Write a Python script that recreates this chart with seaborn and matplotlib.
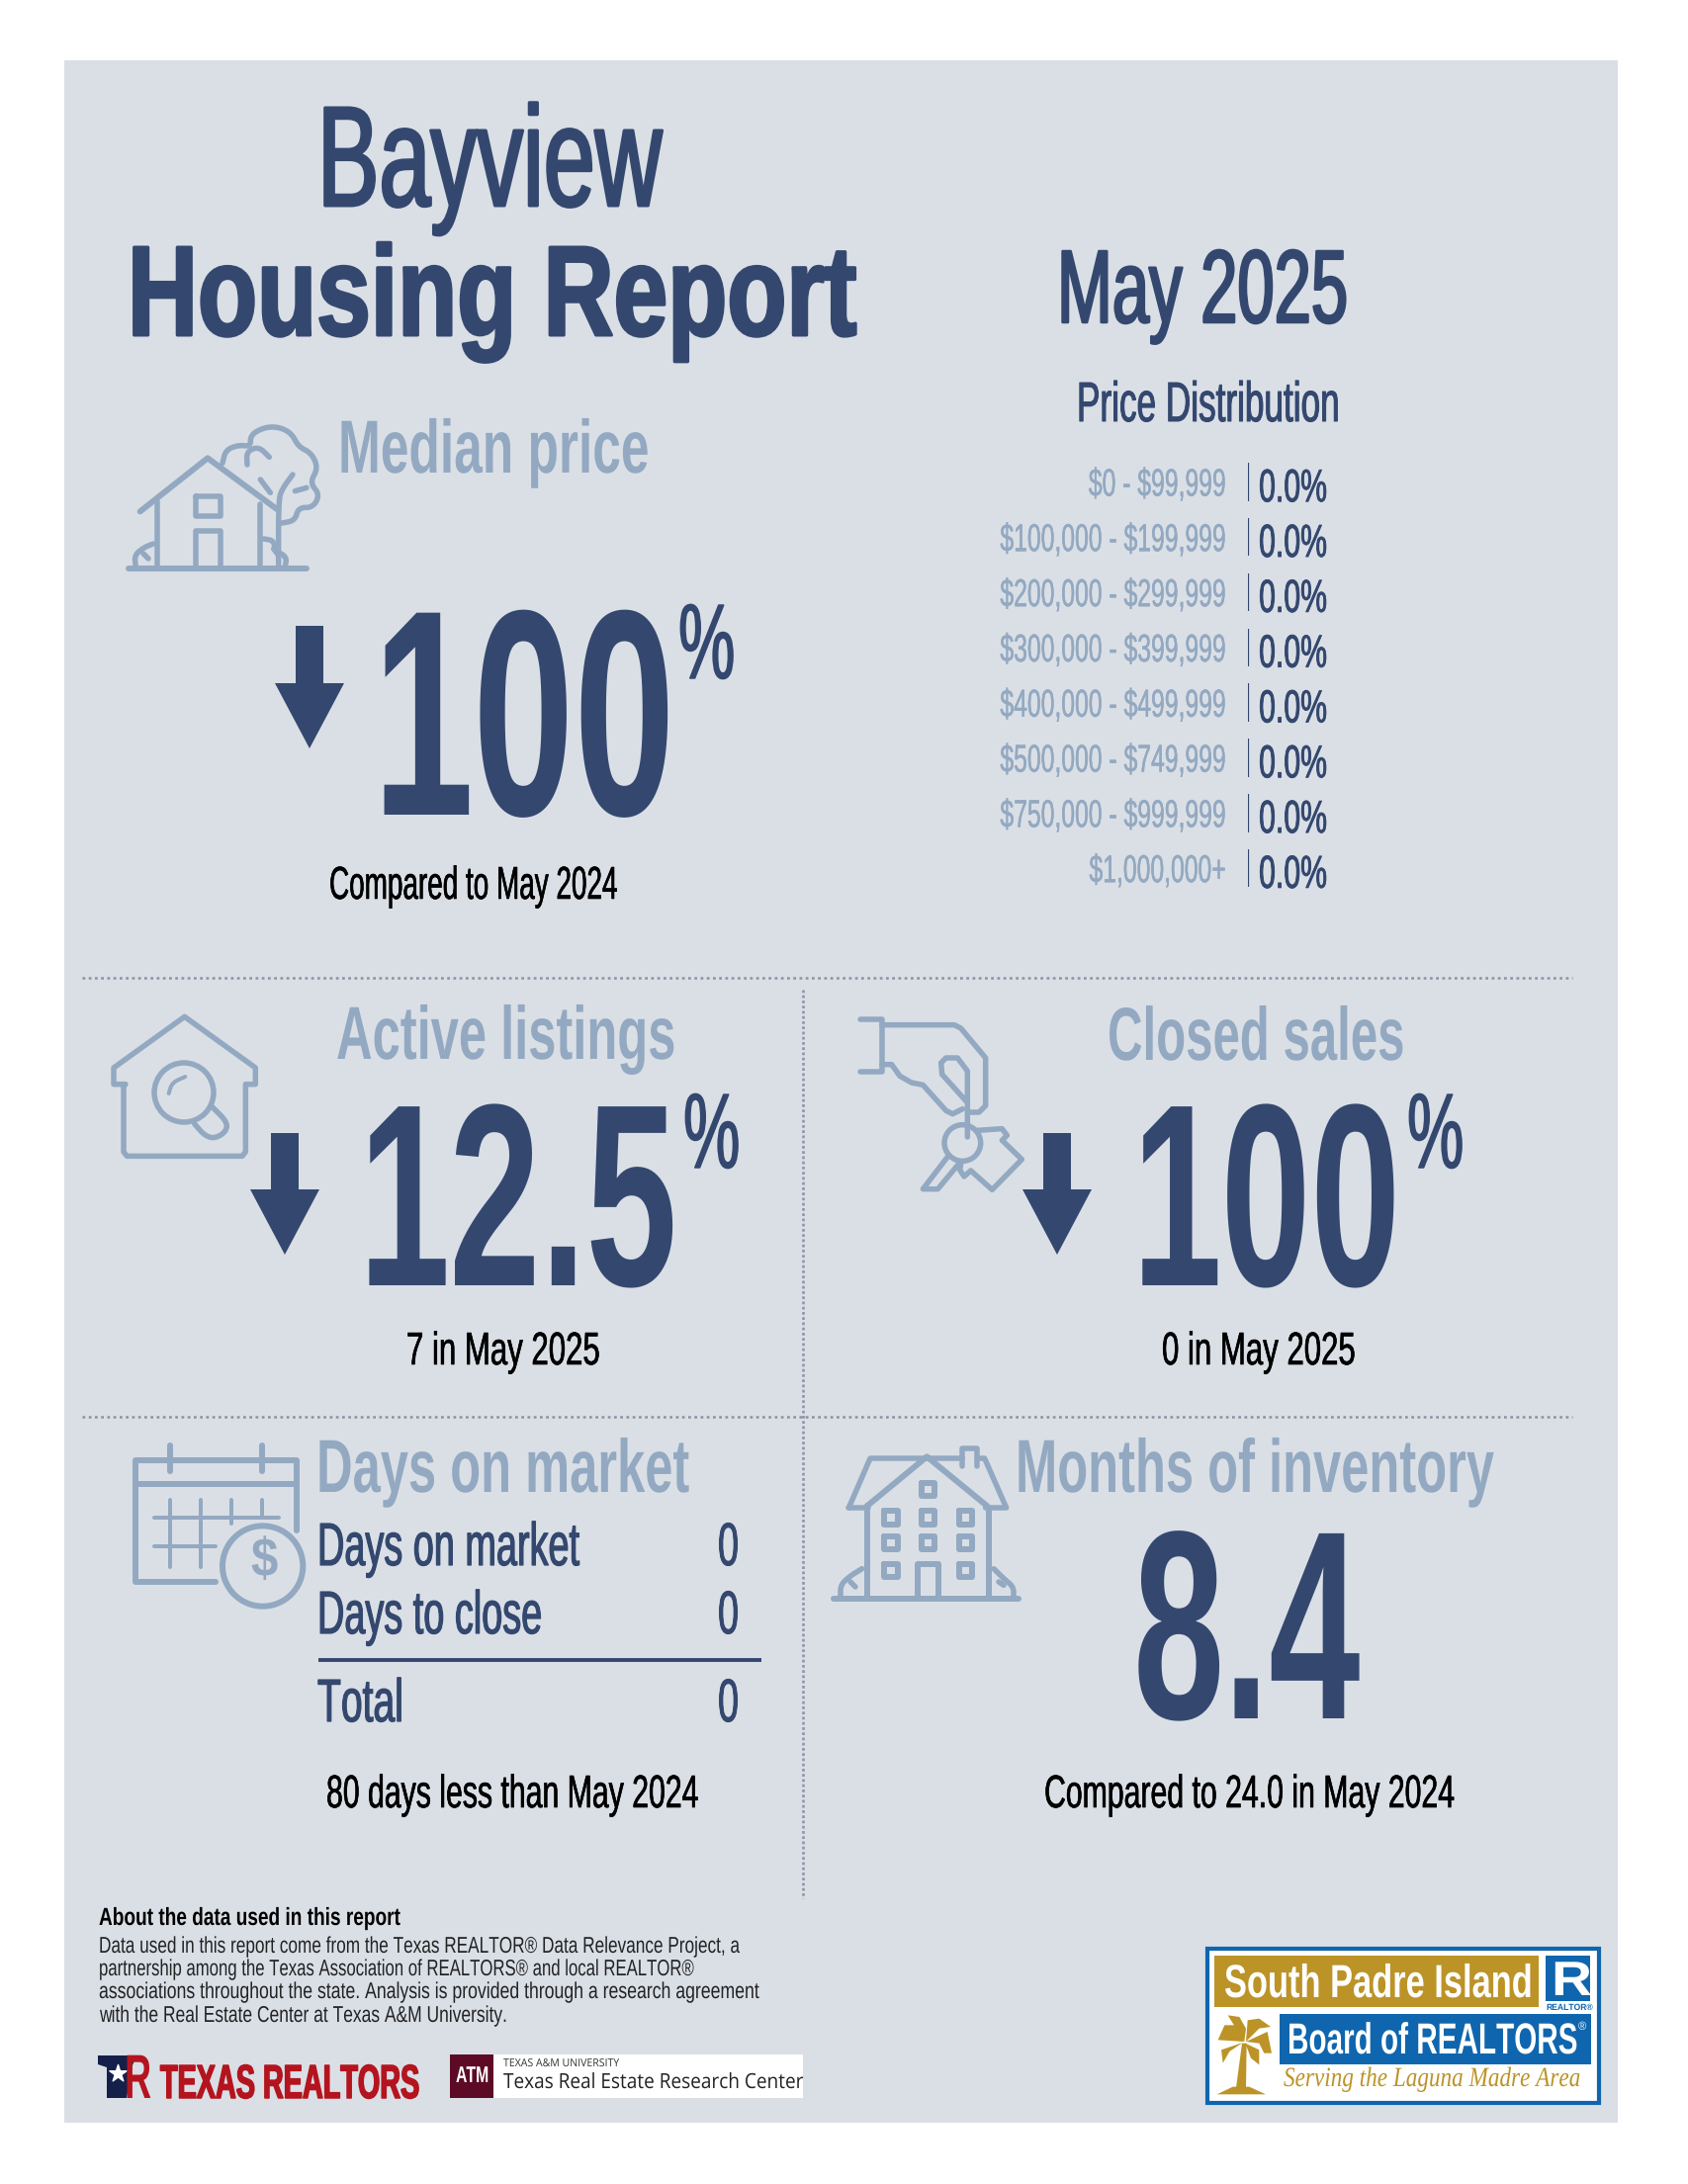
import os
import tempfile
import numpy as np
import matplotlib
matplotlib.use('Agg')
import matplotlib.pyplot as plt
import matplotlib.patheffects as pe
import seaborn as sns
from matplotlib import font_manager as fm
from matplotlib.patches import Rectangle, Polygon, Circle
from matplotlib.textpath import TextPath
from fontTools import subset
from fontTools.ttLib import TTFont

# values
city = 'Bayview'
report_month = 'May 2025'
prior_month = 'May 2024'
price_bins = ['$0 - $99,999', '$100,000 - $199,999', '$200,000 - $299,999', '$300,000 - $399,999',
              '$400,000 - $499,999', '$500,000 - $749,999', '$750,000 - $999,999', '$1,000,000+']
price_pct = [0.0, 0.0, 0.0, 0.0, 0.0, 0.0, 0.0, 0.0]
median_change = '100'
listings_change = '12.5'
listings_now = 7
sales_change = '100'
sales_now = 0
days_labels = ['Days on market', 'Days to close', 'Total']
days_values = [0, 0, 0]
days_diff = 80
months_now = '8.4'
months_prior = '24.0'
about_lines = ['Data used in this report come from the Texas REALTOR® Data Relevance Project, a',
               'partnership among the Texas Association of REALTORS® and local REALTOR®',
               'associations throughout the state. Analysis is provided through a research agreement',
               'with the Real Estate Center at Texas A&M University.']

NAVY = '#34486F'
MUTED = '#93A9C1'
PANEL = '#DADFE6'
DOTS = '#8A93A3'
GOLD = '#BC9327'
BLUE = '#0F66AE'
RED = '#B4141E'

sns.set_theme(style='white')
plt.rcParams['text.parse_math'] = False
plt.rcParams['text.hinting'] = 'no_hinting'

W, H = 1707, 2209
fig = plt.figure(figsize=(W / 100, H / 100), dpi=100, facecolor='white')
ax = fig.add_axes([0, 0, 1, 1])
ax.set_xlim(0, W)
ax.set_ylim(H, 0)
ax.axis('off')

# none of the installed fonts is as narrow as the report's, so squeeze Liberation Sans
tmpDir = tempfile.mkdtemp()
fontCache = {}


def base_font(weight, family='Liberation Sans', style='normal'):
    key = (family, weight, style)
    if key in fontCache:
        return fontCache[key]
    src = fm.findfont(fm.FontProperties(family=family, weight=weight, style=style))
    opts = subset.Options()
    opts.layout_features = []
    opts.hinting = False
    opts.drop_tables += ['kern', 'GPOS', 'GSUB', 'GDEF']
    font = TTFont(src)
    sub = subset.Subsetter(opts)
    sub.populate(unicodes=list(range(32, 127)) + [0xAE])
    sub.subset(font)
    out = os.path.join(tmpDir, f'{family}_{weight}_{style}.ttf'.replace(' ', ''))
    font.save(out)
    fontCache[key] = out
    return out


def squeezed(base, sx):
    sx = round(sx, 2)
    key = (base, sx)
    if key in fontCache:
        return fontCache[key]
    font = TTFont(base)
    glyf = font['glyf']
    hmtx = font['hmtx']
    for name in font.getGlyphOrder():
        g = glyf[name]
        if g.isComposite():
            for c in g.components:
                c.x = int(round(c.x * sx))
        elif g.numberOfContours > 0:
            g.coordinates.scale((sx, 1))
            g.coordinates.toInt()
        adv, lsb = hmtx[name]
        hmtx[name] = (int(round(adv * sx)), int(round(lsb * sx)))
    out = base.replace('.ttf', f'_{int(sx * 100)}.ttf')
    font.save(out)
    fontCache[key] = out
    return out


def fit_font(s, x0, x1, cap, base):
    px = cap / 0.688
    ext = TextPath((0, 0), s, size=px, prop=fm.FontProperties(fname=base)).get_extents()
    sx = (x1 - x0) / ext.width
    return fm.FontProperties(fname=squeezed(base, sx), size=px * 0.72)


def fit_text(s, x0, x1, baseline, cap, weight='bold', color=NAVY, family='Liberation Sans', style='normal', zorder=5, heavy=0):
    fp = fit_font(s, x0, x1, cap, base_font(weight, family, style))
    t = ax.text(x0, baseline, s, fontproperties=fp, color=color, va='baseline', ha='left', zorder=zorder)
    if heavy:
        # the report's type is a bit heavier than the regular cut
        t.set_path_effects([pe.withStroke(linewidth=heavy * 0.72, foreground=color)])
    return t


def chaikin(pts, n=3):
    pts = np.array(pts, dtype=float)
    for i in range(n):
        q = 0.75 * pts[:-1] + 0.25 * pts[1:]
        r = 0.25 * pts[:-1] + 0.75 * pts[1:]
        mid = np.empty((len(q) * 2, 2))
        mid[0::2] = q
        mid[1::2] = r
        pts = np.vstack([pts[0], mid, pts[-1]])
    return pts


def stroke(origin, pts, lw=5.5, smooth=False, color=MUTED):
    # pts are given in the 3x zoom grid of the icon
    pts = np.array(pts, dtype=float)
    if smooth:
        pts = chaikin(pts)
    ax.plot(origin[0] + pts[:, 0] / 3, origin[1] + pts[:, 1] / 3, color=color, lw=lw * 0.72,
            solid_capstyle='round', solid_joinstyle='round', zorder=3)


def ring(origin, c, r, lw=5.5):
    ax.add_patch(Circle((origin[0] + c[0] / 3, origin[1] + c[1] / 3), r / 3, fill=False, ec=MUTED, lw=lw * 0.72, zorder=3))


def arrow(cx, top, neck, tip, half_shaft=14, half_head=35):
    ax.add_patch(Polygon([(cx - half_shaft, top), (cx + half_shaft, top), (cx + half_shaft, neck), (cx + half_head, neck),
                          (cx, tip), (cx - half_head, neck), (cx - half_shaft, neck)], fc=NAVY, ec='none', zorder=4))


def box(x0, y0, x1, y1, color, **kw):
    ax.add_patch(Rectangle((x0, y0), x1 - x0, y1 - y0, fc=color, ec='none', **kw))


# background and dividers
box(65, 61, 1636, 2147, PANEL, zorder=0)
for y in [989, 1433]:
    ax.plot([83, 1590], [y, y], color=DOTS, lw=1.8, ls=(0, (1.1, 1.4)), zorder=1)
ax.plot([812, 812], [1001, 1920], color=DOTS, lw=1.8, ls=(0, (1.1, 1.0)), zorder=1)

# headers
fit_text(city, 321, 661, 208, 99, 'regular', heavy=3)
fit_text('Housing Report', 129, 859, 339, 89, heavy=3)
fit_text(report_month, 1069, 1353, 326, 72, 'regular', heavy=2.5)
fit_text('Price Distribution', 1089, 1348, 426, 39, 'regular', heavy=1)

# median price
fit_text('Median price', 342, 649, 477, 52, color=MUTED)
o = (110, 400)
stroke(o, [(60, 525), (600, 525)], 6)
stroke(o, [(95, 352), (300, 190), (510, 345)], 6)
stroke(o, [(148, 320), (148, 520)])
stroke(o, [(460, 330), (460, 520)])
stroke(o, [(265, 305), (340, 305), (340, 365), (265, 365), (265, 305)])
stroke(o, [(265, 520), (265, 410), (340, 410), (340, 520)])
stroke(o, [(515, 520), (515, 320), (525, 285), (558, 240)], smooth=True)
stroke(o, [(460, 255), (490, 295)])
stroke(o, [(345, 205), (355, 165), (395, 150), (430, 155), (430, 120), (470, 97), (515, 95), (555, 115), (575, 155),
           (615, 175), (635, 220), (610, 265), (640, 300), (620, 340), (575, 340), (565, 380), (520, 388)], smooth=True)
stroke(o, [(420, 210), (418, 170), (455, 155), (487, 187)], smooth=True)
stroke(o, [(565, 290), (600, 280)])
stroke(o, [(82, 520), (78, 485), (105, 462), (135, 450)], smooth=True)
stroke(o, [(105, 480), (120, 495)])
stroke(o, [(470, 435), (500, 440), (505, 470), (540, 490), (535, 520)], smooth=True)
stroke(o, [(500, 465), (515, 485)])

arrow(313, 633, 691, 757)
fit_text(median_change, 376, 663, 824, 204, 'bold')
fit_text('%', 686, 739, 686, 74, 'regular', heavy=1.5)
fit_text(f'Compared to {prior_month}', 333, 621, 909, 32, 'regular', color='black', heavy=0.6)

# price distribution table
pax = fig.add_axes([1262 / W, 1 - 906 / H, 100 / W, 446.5 / H])
sns.barplot(x=price_pct, y=price_bins, orient='h', width=0.69, color=NAVY, saturation=1,
            edgecolor=NAVY, linewidth=1.6, ax=pax)
pax.set_xlim(0, 100)
pax.patch.set_alpha(0)
pax.set_xlabel('')
pax.set_ylabel('')
pax.set_xticks([])
pax.tick_params(axis='y', length=0, pad=16)
sns.despine(ax=pax, left=True, bottom=True)
bin_font = fit_font(price_bins[1], 1012, 1240, 27, base_font('regular'))
for lab in pax.get_yticklabels():
    lab.set_fontproperties(bin_font)
    lab.set_color(MUTED)
    lab.set_va('center_baseline')
    lab.set_path_effects([pe.withStroke(linewidth=0.3, foreground=MUTED)])
pct_font = fit_font('0.0%', 1273, 1340, 32, base_font('regular'))
pct_labels = pax.bar_label(pax.containers[0], labels=[f'{v:.1f}%' for v in price_pct], padding=8,
                           fontproperties=pct_font, color=NAVY)
for lab in pct_labels:
    lab.set_va('center_baseline')
    lab.xyann = (8, -2)
    lab.set_path_effects([pe.withStroke(linewidth=0.6, foreground=NAVY)])

# active listings
fit_text('Active listings', 340, 681, 1071, 52, color=MUTED)
o = (100, 1010)
stroke(o, [(80, 260), (45, 260), (45, 210), (260, 55), (475, 210), (475, 260), (445, 260), (445, 465), (435, 478),
           (85, 478), (75, 465), (75, 260), (80, 260)])
ring(o, (258, 285), 90)
stroke(o, [(212, 288), (222, 255), (262, 237)], 4, smooth=True)
stroke(o, [(345, 330), (390, 375), (385, 405), (350, 425), (320, 415), (290, 380)], smooth=True)
arrow(288, 1146, 1203, 1269)
fit_text(listings_change, 363, 671, 1300, 181, 'bold')
fit_text('%', 691, 744, 1181, 74, 'regular', heavy=1.5)
fit_text(f'{listings_now} in {report_month}', 411, 604, 1380, 32, 'regular', color='black', heavy=0.6)

# closed sales
fit_text('Closed sales', 1120, 1415, 1071, 52, color=MUTED)
o = (800, 980)
stroke(o, [(210, 152), (275, 152), (275, 312), (210, 312)])
stroke(o, [(275, 170), (495, 170), (515, 180), (590, 270), (590, 415), (570, 435), (540, 435)])
stroke(o, [(275, 290), (305, 290), (330, 325), (365, 345), (400, 352), (470, 430), (490, 440), (520, 425)])
stroke(o, [(535, 510), (535, 310), (505, 270), (470, 270), (455, 285), (458, 320), (530, 400)])
ring(o, (520, 528), 55)
stroke(o, [(475, 570), (400, 668), (445, 668), (510, 590)])
stroke(o, [(565, 490), (640, 485), (655, 505), (640, 520), (700, 578), (610, 670), (545, 612), (525, 630), (512, 610), (515, 590)])
arrow(1069, 1146, 1203, 1269)
fit_text(sales_change, 1145, 1402, 1300, 181, 'bold')
fit_text('%', 1423, 1476, 1181, 74, 'regular', heavy=1.5)
fit_text(f'{sales_now} in {report_month}', 1175, 1369, 1380, 32, 'regular', color='black', heavy=0.6)

# days on market
fit_text('Days on market', 320, 695, 1508, 52, color=MUTED)
o = (120, 1420)
stroke(o, [(155, 125), (155, 205)], 6)
stroke(o, [(435, 125), (435, 205)], 6)
stroke(o, [(295, 540), (50, 540), (50, 172), (540, 172), (540, 385)], 6)
stroke(o, [(50, 243), (530, 243)], 6)
stroke(o, [(108, 344), (487, 344)], 4)
stroke(o, [(108, 432), (295, 432)], 4)
stroke(o, [(157, 290), (157, 495)], 4)
stroke(o, [(249, 290), (249, 495)], 4)
stroke(o, [(342, 290), (342, 362)], 4)
stroke(o, [(435, 290), (435, 344)], 4)
ax.add_patch(Circle((120 + 437 / 3, 1420 + 492 / 3), 122 / 3, fc=PANEL, ec=MUTED, lw=6 * 0.72, zorder=3))
fit_text('$', 253, 279, 1594, 38, color=MUTED)

row_spans = [(321, 582), (321, 544), (321, 404)]
row_base = [1583, 1652, 1741]
for lab, val, span, y in zip(days_labels, days_values, row_spans, row_base):
    fit_text(lab, span[0], span[1], y, 42, 'regular', heavy=1.2)
    fit_text(str(val), 726, 744, y, 42, 'regular', heavy=1)
ax.plot([322, 770], [1679, 1679], color=NAVY, lw=2.8, solid_capstyle='butt', zorder=3)
fit_text(f'{days_diff} days less than {prior_month}', 330, 704, 1828, 32, 'regular', color='black', heavy=0.6)

# months of inventory
fit_text('Months of inventory', 1027, 1507, 1508, 52, color=MUTED)
o = (830, 1440)
stroke(o, [(40, 530), (600, 530)], 6)
stroke(o, [(140, 250), (322, 100), (505, 250)], 6)
stroke(o, [(85, 255), (150, 105), (430, 105)])
stroke(o, [(430, 130), (430, 75), (475, 75), (475, 130)])
stroke(o, [(475, 105), (497, 105), (563, 255), (500, 255)])
stroke(o, [(85, 255), (145, 255)])
stroke(o, [(140, 250), (140, 525)], 6)
stroke(o, [(510, 255), (510, 525)], 6)
stroke(o, [(295, 525), (295, 425), (358, 425), (358, 525)], 6)
for wx, wy in [(326, 200), (213, 285), (326, 285), (440, 285), (213, 362), (326, 362), (440, 362), (213, 445), (440, 445)]:
    stroke(o, [(wx - 20, wy - 20), (wx + 20, wy - 20), (wx + 20, wy + 20), (wx - 20, wy + 20), (wx - 20, wy - 20)], 6)
stroke(o, [(60, 525), (60, 490), (85, 465), (125, 440)], smooth=True)
stroke(o, [(90, 480), (105, 495)])
stroke(o, [(525, 440), (555, 470), (585, 495), (585, 525)], smooth=True)
stroke(o, [(540, 480), (555, 490)])
fit_text(months_now, 1146, 1370, 1738, 187, 'bold')
fit_text(f'Compared to {months_prior} in {prior_month}', 1056, 1467, 1828, 32, 'regular', color='black', heavy=0.6)

# about block
fit_text('About the data used in this report', 100, 405, 1947, 17, 'bold', color='black')
about_ends = [743, 700, 768, 514]
about_base = [1975, 1998, 2021, 2045]
for line, x1, y in zip(about_lines, about_ends, about_base):
    fit_text(line, 100, x1, y, 16, 'regular', color='#222222')

# Texas Realtors logo
ax.add_patch(Polygon([(99, 2079), (138, 2079), (134, 2089), (128, 2122), (108, 2122), (108, 2091), (99, 2088)], fc='#14204A', ec='none', zorder=4))
ax.scatter([119], [2097], marker='*', s=170, color='white', zorder=5)
fit_text('R', 126, 150, 2122, 43, color=RED)
fit_text('TEXAS REALTORS', 162, 424, 2122, 33, color=RED, heavy=1.5)

# A&M logo
box(455, 2078, 499, 2122, '#5C0A25', zorder=4)
box(499, 2078, 812, 2122, 'white', zorder=4)
fit_text('ATM', 461, 494, 2106, 16, color='white')
fit_text('TEXAS A&M UNIVERSITY', 509, 627, 2091, 7.5, 'regular', color='#333333', family='Open Sans')
fit_text('Texas Real Estate Research Center', 509, 811, 2113, 14.5, 'regular', color='#222222', family='Open Sans')

# South Padre Island board logo
ax.add_patch(Rectangle((1221, 1971), 396, 156, fc='white', ec=BLUE, lw=3, zorder=4))
box(1228, 1978, 1556, 2030, GOLD, zorder=5)
fit_text('South Padre Island', 1238, 1548, 2020, 32, color='white', zorder=6)
box(1563, 1978, 1608, 2024, BLUE, zorder=5)
fit_text('R', 1568, 1604, 2018, 34, color='white', zorder=6)
fit_text('REALTOR®', 1563, 1610, 2033, 6, color=BLUE, zorder=6)
box(1294, 2037, 1609, 2088, BLUE, zorder=5)
fit_text('Board of REALTORS', 1302, 1593, 2078, 30, color='white', zorder=6)
fit_text('®', 1596, 1604, 2053, 8, 'regular', color='white', zorder=6)
fit_text('Serving the Laguna Madre Area', 1298, 1597, 2110, 19, 'regular', color=GOLD, family='Liberation Serif', style='italic', zorder=6)
o = (1210, 1960)
palm = [[(145, 315), (65, 310), (85, 265), (120, 265)],
        [(145, 315), (95, 235), (130, 240), (150, 275)],
        [(150, 315), (155, 250), (190, 245), (225, 270), (190, 275)],
        [(150, 315), (215, 285), (228, 350), (205, 350), (190, 320)],
        [(148, 320), (190, 340), (190, 385), (165, 365)],
        [(140, 318), (100, 345), (80, 380), (75, 340)],
        [(138, 320), (120, 455), (150, 455), (152, 320)],
        [(62, 475), (110, 452), (160, 452), (210, 475)]]
for frond in palm:
    ax.add_patch(Polygon([(o[0] + p[0] / 3, o[1] + p[1] / 3) for p in frond], fc=GOLD, ec='none', zorder=6))

fig.savefig('out.png', dpi=100, facecolor='white')
